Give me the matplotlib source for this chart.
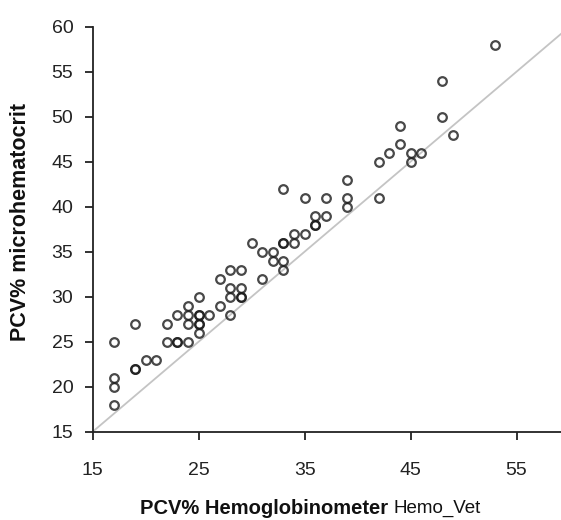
import matplotlib
matplotlib.use("Agg")
import matplotlib.pyplot as plt

hemo_vet = [17, 17, 17, 17,
            19, 19, 19,
            20, 21,
            22, 22,
            23, 23, 23,
            24, 24, 24, 24,
            25, 25, 25, 25, 25, 25,
            26,
            27, 27,
            28, 28, 28, 28,
            29, 29, 29, 29,
            30,
            31, 31,
            32, 32,
            33, 33, 33, 33, 33,
            34, 34,
            35, 35,
            36, 36, 36,
            37, 37,
            39, 39, 39,
            42, 42,
            43,
            44, 44,
            45, 45,
            46,
            48, 48,
            49,
            53]
micro = [25, 21, 20, 18,
         27, 22, 22,
         23, 23,
         27, 25,
         28, 25, 25,
         29, 28, 27, 25,
         30, 28, 28, 27, 27, 26,
         28,
         32, 29,
         33, 31, 30, 28,
         33, 31, 30, 30,
         36,
         35, 32,
         35, 34,
         42, 36, 36, 34, 33,
         37, 36,
         41, 37,
         39, 38, 38,
         41, 39,
         43, 41, 40,
         45, 41,
         46,
         49, 47,
         46, 45,
         46,
         54, 50,
         48,
         58]

x_ticks = [15, 25, 35, 45, 55]
y_ticks = [15, 20, 25, 30, 35, 40, 45, 50, 55, 60]
x_range = [15, 59.2]
y_range = [15, 60]

plt.rcParams['font.family'] = ['Liberation Sans', 'DejaVu Sans']
fig = plt.figure(figsize=(5.61, 5.20), dpi=100)
ax = fig.add_axes([92.7/561, (520-431.7)/520, (561-92.7)/561, 405/520])

ax.plot(x_range, x_range, color='#c4c4c4', lw=1.3, zorder=1, clip_on=False)
ax.plot(hemo_vet, micro, linestyle='none', marker='o', markersize=6.2,
        markerfacecolor='none', markeredgecolor='#1a1a1a', markeredgewidth=1.6,
        alpha=0.8, zorder=2)

ax.set_xlim(*x_range)
ax.set_ylim(*y_range)
ax.set_xticks(x_ticks)
ax.set_yticks(y_ticks)
for s in ['top', 'right']:
    ax.spines[s].set_visible(False)
for s in ['left', 'bottom']:
    ax.spines[s].set_linewidth(1.3)
    ax.spines[s].set_color('#222222')
ax.tick_params(axis='both', direction='out', length=6, width=1.3, color='#222222',
               labelsize=14, labelcolor='#222222')
ax.tick_params(axis='x', pad=16)
ax.tick_params(axis='y', pad=8)

yc = 1 - 508/520
t1 = fig.text(140/561, yc, 'PCV% Hemoglobinometer', fontsize=14.5, fontweight='bold',
              color='#111111', va='center', ha='left')
t2 = fig.text(481/561, yc, 'Hemo_Vet', fontsize=13.5, color='#111111',
              va='center', ha='right')

ty = fig.text(21/561, 1 - 222/520, 'PCV% microhematocrit', fontsize=15.5, fontweight='bold',
              color='#111111', va='center', ha='center', rotation=90)

fig.savefig('out.png', dpi=100)
